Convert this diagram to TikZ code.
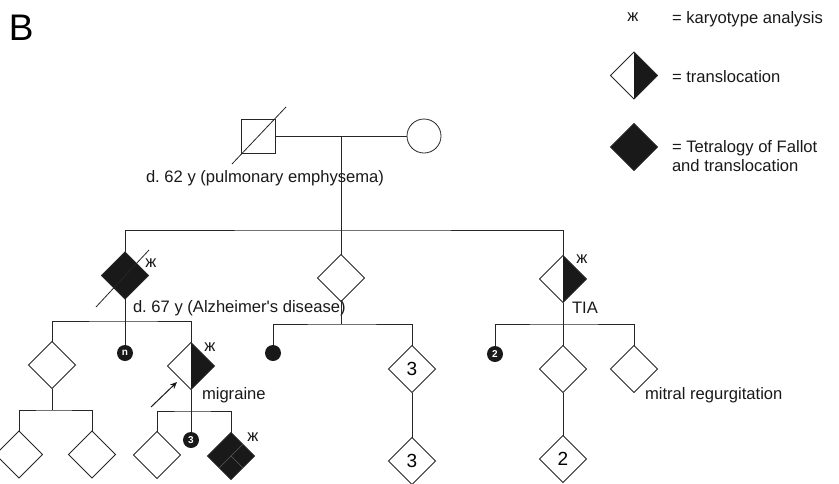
\documentclass[tikz,border=0pt]{standalone}
\usepackage{fontspec}
\setmainfont{Liberation Sans}[Ligatures=TeXOff]
\usetikzlibrary{shapes.geometric,arrows.meta,calc}
\frenchspacing
\begin{document}
\begin{tikzpicture}[x=1pt,y=-1pt,
  every node/.style={inner sep=0pt,outer sep=0pt},
  ln/.style={draw=black!85,line width=0.8pt},
  txt/.style={font=\fontsize{16.6}{20}\selectfont\frenchspacing,text=black!90},
  kar/.style={font=\fontsize{16.5}{18}\selectfont,text=black!90},
  dia/.style={diamond,draw=black!85,line width=0.8pt,minimum width=47pt,minimum height=47pt,aspect=1,font=\fontsize{19}{21}\selectfont},
  fdia/.style={dia,fill=black!90},
  hdia/.style={dia,path picture={\fill[black!90] (path picture bounding box.north) -- (path picture bounding box.east) -- (path picture bounding box.south) -- cycle;}},
  dot/.style={circle,fill=black!90,minimum size=16pt,text=white,font=\fontsize{10}{10}\selectfont\bfseries}
]
\useasboundingbox (0,0) rectangle (839,483);

% title
\node[anchor=base west,font=\fontsize{37}{40}\selectfont] (B) at (9,40) {B};

% legend
\node[kar] (lk) at (633,17) {ж};
\node[txt,anchor=base west] (lkt) at (672,23) {= karyotype analysis};
\node[hdia] (lh) at (634,75.5) {};
\node[txt,anchor=base west] (lht) at (672,82) {= translocation};
\node[fdia] (lf) at (634,147) {};
\node[txt,anchor=base west] (lft1) at (672,152) {= Tetralogy of Fallot};
\node[txt,anchor=base west] (lft2) at (672,171) {and translocation};

% generation I
\node[rectangle,draw=black!85,line width=0.8pt,minimum size=34pt] (F) at (258,136) {};
\node[circle,draw=black!85,line width=0.8pt,minimum size=34pt] (M) at (424,136) {};
\draw[ln] ($(F)+(-26,28)$) -- ($(F)+(28,-29)$);
\node[txt,anchor=base west] (dF) at (146,182) {d. 62 y (pulmonary emphysema)};
\coordinate (c1) at (341,136);
\coordinate (s1) at (341,230);
\draw[ln] (F.east) -- (M.west);

% generation II
\node[fdia] (A) at (125,275.5) {};
\node[dia] (Bm) at (341,278) {};
\node[hdia] (C) at (563,279) {};
\draw[ln] (c1) -- (Bm.north);
\draw[ln] (A.north) |- (s1) -| (C.north);
\draw[ln] ($(A)+(-29,31.5)$) -- ($(A)+(24,-25.5)$);
\node[kar] (kA) at (151,263) {ж};
\node[kar] (kC) at (582,259) {ж};
\node[txt,anchor=base west] (dA) at (133,312) {d. 67 y (Alzheimer's disease)};
\node[txt,anchor=base west] (tia) at (572,313) {TIA};

% generation III, left
\coordinate (s2) at (125,321);
\node[dia] (L1) at (52,365) {};
\node[dot] (n1) at (125,353) {n};
\node[hdia] (P) at (191,366) {};
\draw[ln] (A.south) -- (n1);
\draw[ln] (L1.north) |- (s2) -| (P.north);
\node[kar] (kP) at (210,347) {ж};
\node[txt,anchor=base west] (mig) at (202,399) {migraine};
\coordinate (ar0) at (151,407);
\coordinate (ar1) at (177,382);
\draw[draw=black!90,line width=1pt,-{Stealth[length=7pt,width=6pt]}] (ar0) -- (ar1);

% generation IV, left
\coordinate (s3) at (52,410);
\node[dia] (G1) at (19,454.5) {};
\node[dia] (G2) at (92,454.5) {};
\draw[ln] (L1.south) -- (s3);
\draw[ln] (G1.north) |- (s3) -| (G2.north);

\coordinate (s4) at (191,411);
\node[dia] (H1) at (157,455) {};
\node[dot] (n3) at (191,440) {3};
\node[fdia] (H2) at (231,456) {};
\draw[black!65,line width=0.5pt] ($(H2.north)!0.5!(H2.east)$) -- ($(H2.south)!0.5!(H2.west)$);
\draw[black!65,line width=0.5pt] (H2.center) -- ($(H2.south)!0.5!(H2.east)$);
\draw[ln] (P.south) -- (n3);
\draw[ln] (H1.north) |- (s4) -| (H2.north);
\node[kar] (kH) at (253,437) {ж};

% generation III, middle
\coordinate (s5) at (341,324);
\node[dot] (d1) at (273,353) {};
\node[dia] (D1) at (412,369) {3};
\node[dia] (D2) at (412,461) {3};
\draw[ln] (Bm.south) -- (s5);
\draw[ln] (d1) |- (s5) -| (D1.north);
\draw[ln] (D1.south) -- (D2.north);

% generation III, right
\coordinate (s6) at (563,324);
\node[dot] (n2) at (495,354) {2};
\node[dia] (E1) at (563,369) {};
\node[dia] (E2) at (634,369) {};
\node[dia] (E3) at (563,459) {2};
\draw[ln] (C.south) -- (E1.north);
\draw[ln] (n2) |- (s6) -| (E2.north);
\draw[ln] (E1.south) -- (E3.north);
\node[txt,anchor=base west] (mr) at (645,399) {mitral regurgitation};
\end{tikzpicture}
\end{document}
